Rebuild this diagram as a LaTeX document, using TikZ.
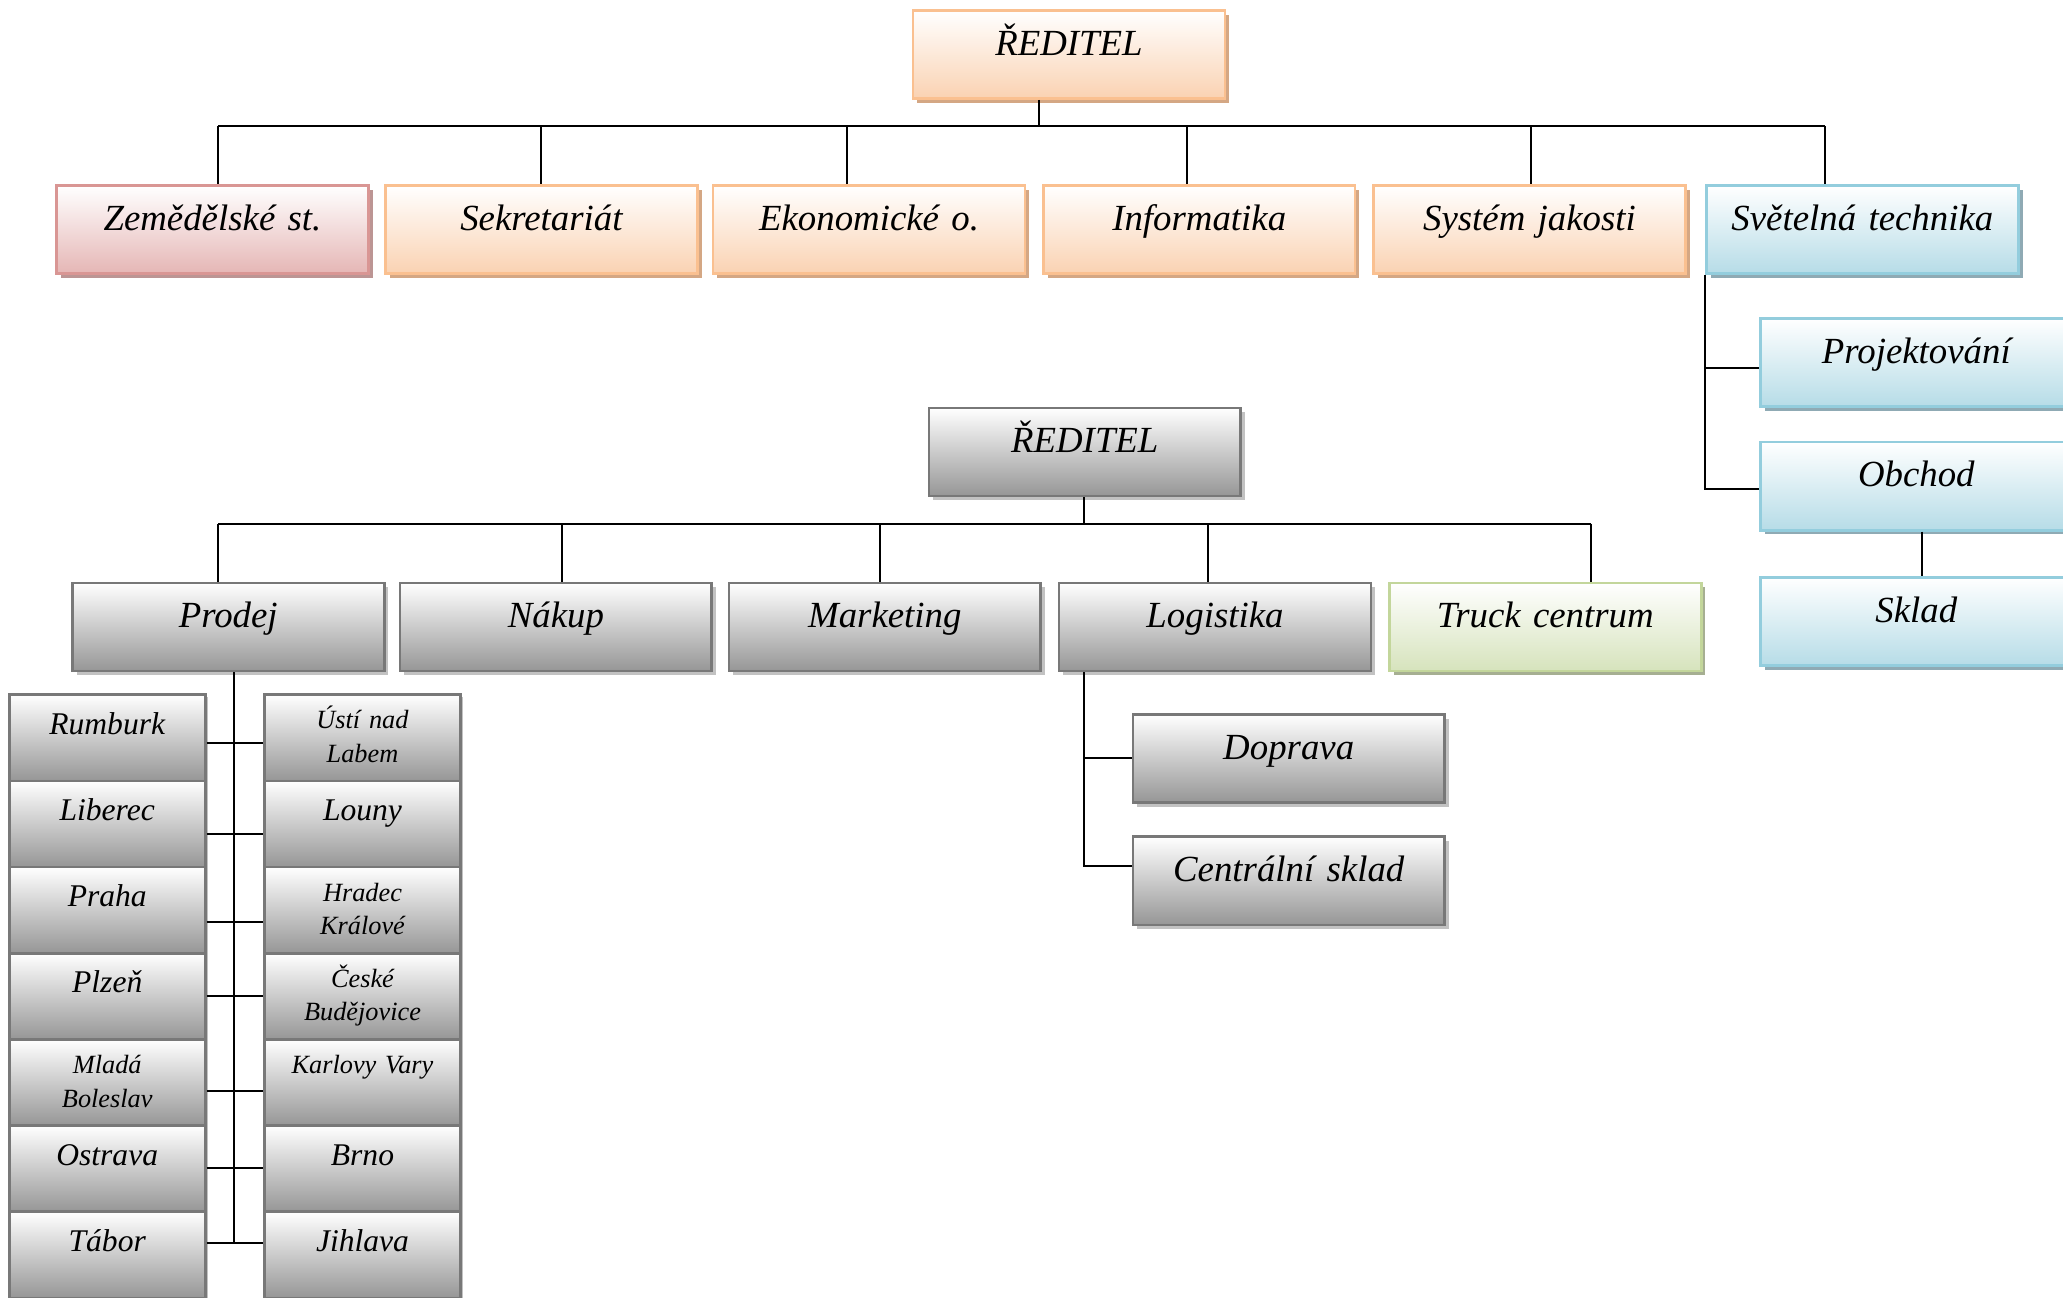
\documentclass[tikz,border=0pt]{standalone}
\usepackage{fontspec}
\setmainfont{Liberation Serif}
\usetikzlibrary{shadows}

\definecolor{orB}{HTML}{FAC090}
\definecolor{orF}{HTML}{FAD2B2}
\definecolor{orS}{HTML}{D4A784}
\definecolor{pkB}{HTML}{D99694}
\definecolor{pkF}{HTML}{E5B6B5}
\definecolor{pkS}{HTML}{BC9594}
\definecolor{blB}{HTML}{93CDDD}
\definecolor{blF}{HTML}{B6DCE7}
\definecolor{blS}{HTML}{8FAAB4}
\definecolor{gyB}{HTML}{787878}
\definecolor{gyF}{HTML}{969696}
\definecolor{gyS}{HTML}{C2C2C2}
\definecolor{grB}{HTML}{C3D69B}
\definecolor{grF}{HTML}{D6E3BC}
\definecolor{grS}{HTML}{A6AF92}

\tikzset{
  basebox/.style={rectangle, anchor=north west, inner sep=0pt, line width=1pt,
    align=center, font=\fontsize{14}{17}\selectfont\itshape,
    text width=118.5pt, text height=17pt, text depth=16.5pt},
  shad/.style={drop shadow={shadow xshift=1.6pt, shadow yshift=-1.6pt, fill=#1, opacity=1}},
  orbox/.style={basebox, draw=orB, top color=white, bottom color=orF, shad=orS},
  pkbox/.style={basebox, draw=pkB, top color=white, bottom color=pkF, shad=pkS},
  blbox/.style={basebox, draw=blB, top color=white, bottom color=blF, shad=blS},
  gybox/.style={basebox, draw=gyB, top color=white, bottom color=gyF, shad=gyS},
  grbox/.style={basebox, draw=grB, top color=white, bottom color=grF, shad=grS},
  citybox/.style={rectangle, anchor=north west, inner sep=0pt, line width=1pt,
    align=center, draw=gyB, top color=white, bottom color=gyF,
    drop shadow={shadow xshift=1pt, shadow yshift=-1pt, fill=gyS, opacity=1},
    font=\fontsize{12}{14}\selectfont\itshape,
    text width=74.5pt, text height=15pt, text depth=17.75pt},
  citysmall/.style={citybox, font=\fontsize{10}{12.75}\selectfont\itshape,
    text height=13pt, text depth=19.75pt},
  conn/.style={line width=0.75pt, black},
}

\begin{document}
\begin{tikzpicture}[x=0.5pt, y=-0.5pt]
\useasboundingbox (0,0) rectangle (1568,986);
\clip (0,0) rectangle (1568,986);

% ---------- upper chart ----------
\node[orbox] (r1) at (693,7) {ŘEDITEL};
\node[pkbox] (zem) at (42,140) {Zemědělské st.};
\node[orbox] (sek) at (292,140) {Sekretariát};
\node[orbox] (eko) at (541,140) {Ekonomické o.};
\node[orbox] (inf) at (792,140) {Informatika};
\node[orbox] (sys) at (1043,140) {Systém jakosti};
\node[blbox] (svet) at (1296,140) {Světelná technika};
\node[blbox] (proj) at (1337,241) {Projektování};
\node[blbox] (obch) at (1337,335) {Obchod};
\node[blbox] (skl) at (1337,438) {Sklad};

% ---------- lower chart ----------
\node[gybox] (r2) at (705,309) {ŘEDITEL};
\node[gybox] (prod) at (54,442) {Prodej};
\node[gybox] (nak) at (303,442) {Nákup};
\node[gybox] (mark) at (553,442) {Marketing};
\node[gybox] (logi) at (804,442) {Logistika};
\node[grbox] (truck) at (1055,442) {Truck centrum};
\node[gybox] (dopr) at (860,542) {Doprava};
\node[gybox] (csk) at (860,635) {Centrální sklad};

% ---------- cities ----------
\node[citybox] (c1) at (6,527) {Rumburk};
\node[citybox] (c2) at (6,592.5) {Liberec};
\node[citybox] (c3) at (6,658) {Praha};
\node[citybox] (c4) at (6,723.5) {Plzeň};
\node[citysmall] (c5) at (6,789) {Mladá\\Boleslav};
\node[citybox] (c6) at (6,854.5) {Ostrava};
\node[citybox] (c7) at (6,920) {Tábor};

\node[citysmall] (d1) at (200,527) {Ústí nad\\Labem};
\node[citybox] (d2) at (200,592.5) {Louny};
\node[citysmall] (d3) at (200,658) {Hradec\\Králové};
\node[citysmall] (d4) at (200,723.5) {České\\Budějovice};
\node[citysmall] (d5) at (200,789) {Karlovy Vary};
\node[citybox] (d6) at (200,854.5) {Brno};
\node[citybox] (d7) at (200,920) {Jihlava};

% ---------- connectors: upper ----------
\coordinate (b1) at (790,96);
\coordinate (t1) at (166,96);
\coordinate (t2) at (411,96);
\coordinate (t3) at (644,96);
\coordinate (t4) at (902,96);
\coordinate (t5) at (1164,96);
\coordinate (t6) at (1387,96);
\draw[conn] (r1.south -| b1) -- (b1);
\draw[conn] (t1) -- (t6);
\draw[conn] (t1) -- (t1 |- zem.north);
\draw[conn] (t2) -- (t2 |- sek.north);
\draw[conn] (t3) -- (t3 |- eko.north);
\draw[conn] (t4) -- (t4 |- inf.north);
\draw[conn] (t5) -- (t5 |- sys.north);
\draw[conn] (t6) -- (t6 |- svet.north);

\coordinate (sv) at (1296,372);
\coordinate (pj) at (1296,280);
\draw[conn] (svet.south west) -- (sv) -- (sv -| obch.west);
\draw[conn] (pj) -- (pj -| proj.west);
\coordinate (os) at (1461,420);
\draw[conn] (os |- obch.south) -- (os |- skl.north);

% ---------- connectors: lower ----------
\coordinate (b2) at (824,398);
\coordinate (u1) at (166,398);
\coordinate (u2) at (427,398);
\coordinate (u3) at (669,398);
\coordinate (u4) at (918,398);
\coordinate (u5) at (1209,398);
\draw[conn] (r2.south -| b2) -- (b2);
\draw[conn] (u1) -- (u5);
\draw[conn] (u1) -- (u1 |- prod.north);
\draw[conn] (u2) -- (u2 |- nak.north);
\draw[conn] (u3) -- (u3 |- mark.north);
\draw[conn] (u4) -- (u4 |- logi.north);
\draw[conn] (u5) -- (u5 |- truck.north);

\coordinate (lv) at (824,658);
\coordinate (lh) at (824,576);
\draw[conn] (lv |- logi.south) -- (lv) -- (lv -| csk.west);
\draw[conn] (lh) -- (lh -| dopr.west);

% ---------- connectors: cities ----------
\coordinate (pv) at (178,945);
\draw[conn] (pv |- prod.south) -- (pv);
\coordinate (h1) at (178,565);
\coordinate (h2) at (178,634);
\coordinate (h3) at (178,701);
\coordinate (h4) at (178,757);
\coordinate (h5) at (178,829);
\coordinate (h6) at (178,888);
\coordinate (h7) at (178,945);
\draw[conn] (c1.east |- h1) -- (d1.west |- h1);
\draw[conn] (c2.east |- h2) -- (d2.west |- h2);
\draw[conn] (c3.east |- h3) -- (d3.west |- h3);
\draw[conn] (c4.east |- h4) -- (d4.west |- h4);
\draw[conn] (c5.east |- h5) -- (d5.west |- h5);
\draw[conn] (c6.east |- h6) -- (d6.west |- h6);
\draw[conn] (c7.east |- h7) -- (d7.west |- h7);
\end{tikzpicture}
\end{document}
